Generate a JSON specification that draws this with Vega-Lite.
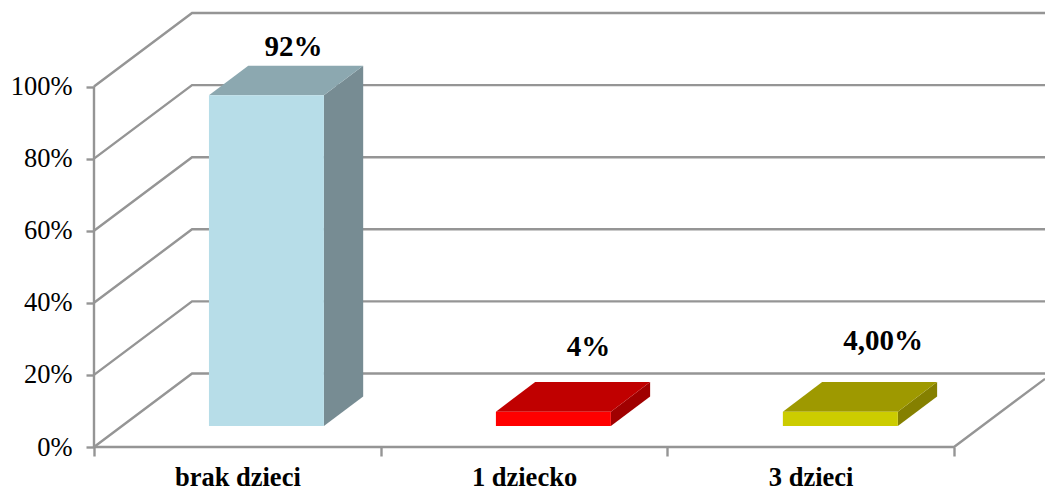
{
"$schema":"https://vega.github.io/schema/vega-lite/v6.json",
"width":951,"height":434,
"autosize":"none",
"padding":{"left":94,"top":13,"right":0,"bottom":45},
"background":"white",
"config":{"view":{"stroke":null},"font":"Liberation Serif","axis":{"labelFont":"Liberation Serif"},"axisY":{"labelFont":"Liberation Serif","labelFontWeight":"normal"}},
"layer":[
{"data":{"values":[
{"id":"wall0","x":0,"y":0},{"id":"wall0","x":0,"y":100},
{"id":"floor","x":0,"y":0},{"id":"floor","x":3,"y":0},{"id":"floor","x":3.3174,"y":18.9},
{"id":"g0","x":0,"y":0},{"id":"g0","x":0.342,"y":20.4},{"id":"g0","x":3.3174,"y":20.4},
{"id":"g20","x":0,"y":20},{"id":"g20","x":0.342,"y":40.4},{"id":"g20","x":3.3174,"y":40.4},
{"id":"g40","x":0,"y":40},{"id":"g40","x":0.342,"y":60.4},{"id":"g40","x":3.3174,"y":60.4},
{"id":"g60","x":0,"y":60},{"id":"g60","x":0.342,"y":80.4},{"id":"g60","x":3.3174,"y":80.4},
{"id":"g80","x":0,"y":80},{"id":"g80","x":0.342,"y":100.4},{"id":"g80","x":3.3174,"y":100.4},
{"id":"g100","x":0,"y":100},{"id":"g100","x":0.342,"y":120.4},{"id":"g100","x":3.3174,"y":120.4}
]},
"mark":{"type":"line","color":"#959595","strokeWidth":2.4,"clip":false},
"encoding":{
"x":{"field":"x","type":"quantitative","sort":null,"scale":{"domain":[0,3.3174],"nice":false,"zero":false},
"axis":{"values":[0,0.5,1,1.5,2,2.5,3],"title":null,"grid":false,"domain":false,"tickColor":"#959595","tickWidth":2.4,"tickSize":9,
"tickOpacity":{"condition":{"test":"datum.value % 1 != 0","value":0},"value":1},
"labelExpr":"datum.value==0.5?'brak dzieci':datum.value==1.5?'1 dziecko':datum.value==2.5?'3 dzieci':''",
"labelFont":"Liberation Serif","labelFontWeight":"bold","labelFontSize":26.5,"labelColor":"#000000","labelPadding":8,"labelOverlap":false,"labelFlush":false,"labelBound":false}},
"y":{"field":"y","type":"quantitative","scale":{"domain":[0,120.4],"nice":false,"zero":false},
"axis":{"values":[0,20,40,60,80,100],"title":null,"grid":false,"domain":false,"tickColor":"#959595","tickWidth":2.4,"tickSize":8,
"labelExpr":"datum.value+'%'","labelFont":"Liberation Serif","labelFontWeight":"normal","labelFontSize":26.5,"labelColor":"#000000","labelPadding":14,"labelOverlap":false,"labelBound":false}},
"detail":{"field":"id"}
}},
{"data":{"values":[
{"face":"a-side","x":0.802,"y":5.8,"y2":97.6},{"face":"a-side","x":0.939,"y":14,"y2":105.8},
{"face":"b-side","x":1.803,"y":5.8,"y2":9.8},{"face":"b-side","x":1.94,"y":14,"y2":18},
{"face":"c-side","x":2.804,"y":5.8,"y2":9.8},{"face":"c-side","x":2.941,"y":14,"y2":18}
]},
"mark":{"type":"area","orient":"vertical","clip":false},
"encoding":{
"x":{"field":"x","type":"quantitative"},
"y":{"field":"y","type":"quantitative","stack":null},
"y2":{"field":"y2"},
"color":{"field":"face","type":"nominal","legend":null,"scale":{"domain":["a-side","b-side","c-side"],"range":["#778C93","#A00000","#858000"]}}
}},
{"data":{"values":[
{"face":"a-top","y":97.6,"x":0.401,"x2":0.802},{"face":"a-top","y":105.8,"x":0.538,"x2":0.939},
{"face":"b-top","y":9.8,"x":1.402,"x2":1.803},{"face":"b-top","y":18,"x":1.539,"x2":1.94},
{"face":"c-top","y":9.8,"x":2.403,"x2":2.804},{"face":"c-top","y":18,"x":2.54,"x2":2.941}
]},
"mark":{"type":"area","orient":"horizontal","clip":false},
"encoding":{
"y":{"field":"y","type":"quantitative"},
"x":{"field":"x","type":"quantitative","stack":null},
"x2":{"field":"x2"},
"color":{"field":"face","type":"nominal","legend":null,"scale":{"domain":["a-top","b-top","c-top"],"range":["#8CA8B0","#C00000","#9E9900"]}}
}},
{"data":{"values":[
{"face":"a-front","x":0.401,"x2":0.802,"y":5.8,"y2":97.6},
{"face":"b-front","x":1.402,"x2":1.803,"y":5.8,"y2":9.8},
{"face":"c-front","x":2.403,"x2":2.804,"y":5.8,"y2":9.8}
]},
"mark":{"type":"rect","clip":false},
"encoding":{
"x":{"field":"x","type":"quantitative"},"x2":{"field":"x2"},
"y":{"field":"y","type":"quantitative"},"y2":{"field":"y2"},
"color":{"field":"face","type":"nominal","legend":null,"scale":{"domain":["a-front","b-front","c-front"],"range":["#B7DDE8","#FF0000","#CCCC00"]}}
}},
{"data":{"values":[
{"label":"92%","x":0.696,"y":110.9},
{"label":"4%","x":1.725,"y":27.7},
{"label":"4,00%","x":2.753,"y":29.4}
]},
"mark":{"type":"text","font":"Liberation Serif","fontWeight":"bold","fontSize":29,"color":"#000000","align":"center","baseline":"middle","clip":false},
"encoding":{
"x":{"field":"x","type":"quantitative"},
"y":{"field":"y","type":"quantitative"},
"text":{"field":"label"}
}}
],
"resolve":{"scale":{"color":"independent"}}
}
